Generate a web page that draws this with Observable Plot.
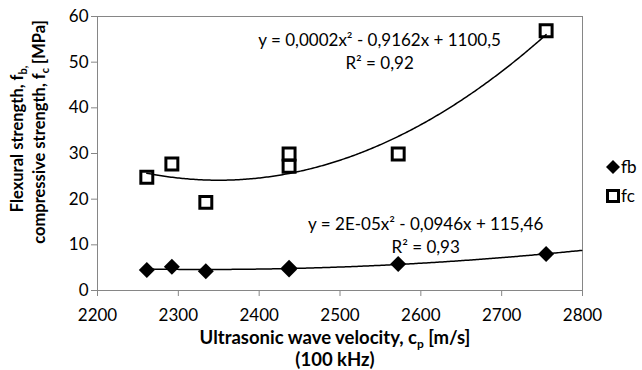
<!DOCTYPE html>
<html><head><meta charset="utf-8">
<script src="https://cdn.jsdelivr.net/npm/d3@7"></script>
<script src="https://cdn.jsdelivr.net/npm/@observablehq/plot@0.6"></script>
<style>
body{margin:0;background:#fff;}
#c{position:relative;width:642px;height:370px;font-family:Lato,sans-serif;color:#000}
.leg{position:absolute;font-size:17px;line-height:16px;display:flex;align-items:center}
</style>
</head><body><div id="c"></div>
<script>
// ---- data ----
const velocity = [2261, 2292, 2334, 2437, 2437, 2572, 2755];
const fb = [4.5, 5.2, 4.2, 4.6, 5.0, 5.8, 8.0];
const fc = [24.8, 27.7, 19.3, 27.2, 29.9, 29.9, 56.9];
const xTicks = [2200, 2300, 2400, 2500, 2600, 2700, 2800];
const yTicks = [0, 10, 20, 30, 40, 50, 60];
const seriesNames = ["fb", "fc"];
const fcEquation = "y = 0,0002x² - 0,9162x + 1100,5\nR² = 0,92";
const fbEquation = "y = 2E-05x² - 0,0946x + 115,46\nR² = 0,93";

// ---- quadratic least-squares trendline (as the chart's Excel trendline) ----
function polyfit2(xs, ys) {
  const c = 2500; // centre for numerical stability
  let S = [0,0,0,0,0], T = [0,0,0];
  xs.forEach((x0, i) => {
    const x = x0 - c, y = ys[i];
    for (let k = 0; k < 5; k++) S[k] += Math.pow(x, k);
    for (let k = 0; k < 3; k++) T[k] += y * Math.pow(x, k);
  });
  const A = [[S[0],S[1],S[2],T[0]],[S[1],S[2],S[3],T[1]],[S[2],S[3],S[4],T[2]]];
  for (let i = 0; i < 3; i++) {
    for (let j = i + 1; j < 3; j++) {
      const f = A[j][i] / A[i][i];
      for (let k = i; k < 4; k++) A[j][k] -= f * A[i][k];
    }
  }
  const b = [0,0,0];
  for (let i = 2; i >= 0; i--) {
    let s = A[i][3];
    for (let k = i + 1; k < 3; k++) s -= A[i][k] * b[k];
    b[i] = s / A[i][i];
  }
  return x => { const t = x - c; return b[0] + b[1]*t + b[2]*t*t; };
}
const fcFit = polyfit2(velocity, fc);
const fbFit = polyfit2(velocity, fb);
const fcCurve = d3.range(d3.min(velocity), d3.max(velocity) + 0.5, 2).map(x => ({x, y: fcFit(x)}));
const fbCurve = d3.range(d3.min(velocity), d3.max(xTicks) + 0.5, 2).map(x => ({x, y: fbFit(x)}));

const points = velocity.map((v, i) => ({v, fb: fb[i], fc: fc[i]}));

const gray = "#868686";
const plot = Plot.plot({
  width: 642, height: 370,
  marginLeft: 97, marginRight: 60, marginTop: 16, marginBottom: 80,
  style: {fontFamily: "Lato, sans-serif", fontSize: "17px", background: "white", color: "black"},
  x: {domain: [2200, 2800], ticks: xTicks},
  y: {domain: [0, 60], ticks: yTicks},
  marks: [
    Plot.frame({stroke: gray}),
    Plot.axisX({ticks: xTicks, tickSize: 6, tickPadding: 12, stroke: gray, fill: "black", label: null, tickFormat: d => String(d), fontSize: 17}),
    Plot.axisY({ticks: yTicks, tickSize: 6, tickPadding: 3, stroke: gray, fill: "black", label: null, fontSize: 17}),
    Plot.dot(points, {x: "v", y: "fc", symbol: "square2", r: 7.6, fill: "none", stroke: "black", strokeWidth: 3}),
    Plot.dot(points, {x: "v", y: "fb", symbol: "diamond2", r: 7.2, fill: "black", stroke: "none"}),
    Plot.line(fcCurve, {x: "x", y: "y", stroke: "black", strokeWidth: 1.5, curve: "linear"}),
    Plot.line(fbCurve, {x: "x", y: "y", stroke: "black", strokeWidth: 1.5, curve: "linear"}),
    Plot.text([fcEquation], {x: 2549, y: 57.05, text: d => d, textAnchor: "middle", lineAnchor: "top", lineHeight: 1.35, fill: "black", fontSize: 17}),
    Plot.text([fbEquation], {x: 2606, y: 16.9, text: d => d, textAnchor: "middle", lineAnchor: "top", lineHeight: 1.35, fill: "black", fontSize: 17})
  ]
});
document.getElementById("c").appendChild(plot);

// ---- axis titles with subscripts ----
const svg = d3.select(plot);
function titleText(g, segments, subSize) {
  let prevSub = false;
  segments.forEach(([s, isSub]) => {
    const ts = g.append("tspan").text(s);
    if (isSub) { ts.attr("font-size", subSize).attr("dy", prevSub ? null : "4"); }
    else if (prevSub) { ts.attr("dy", "-4"); }
    prevSub = isSub;
  });
}
const titleSize = "18.5px";
const xt1 = svg.append("text").attr("x", 335).attr("y", 344).attr("text-anchor", "middle")
  .attr("font-weight", "bold").attr("font-size", titleSize).attr("fill", "black");
titleText(xt1, [["Ultrasonic wave velocity, c", false], ["p", true], [" [m/s]", false]], "12px");
svg.append("text").attr("x", 335).attr("y", 366).attr("text-anchor", "middle")
  .attr("font-weight", "bold").attr("font-size", titleSize).attr("fill", "black").text("(100 kHz)");

const yTitleSize = "16.5px";
const yt1 = svg.append("text").attr("transform", "translate(23,139) rotate(-90)").attr("text-anchor", "middle")
  .attr("font-weight", "bold").attr("font-size", yTitleSize).attr("fill", "black");
titleText(yt1, [["Flexural strength, f", false], ["b,", true]], "11px");
const yt2 = svg.append("text").attr("transform", "translate(45,132) rotate(-90)").attr("text-anchor", "middle")
  .attr("font-weight", "bold").attr("font-size", yTitleSize).attr("fill", "black");
titleText(yt2, [["compressive strength, f", false], ["c", true], [" [MPa]", false]], "11px");

// ---- legend ----
const c = document.getElementById("c");
const legendSymbols = [
  '<svg width="14" height="14"><path d="M7,0L14,7L7,14L0,7Z" fill="black"/></svg>',
  '<svg width="14" height="14"><rect x="1.5" y="1.5" width="11" height="11" fill="none" stroke="black" stroke-width="3"/></svg>'
];
const legendTops = [159, 188];
seriesNames.forEach((name, i) => {
  const d = document.createElement("div");
  d.className = "leg";
  d.style.left = "606px"; d.style.top = legendTops[i] + "px";
  d.innerHTML = legendSymbols[i] + '<span style="margin-left:1px">' + name + '</span>';
  c.appendChild(d);
});
</script>
</body></html>
